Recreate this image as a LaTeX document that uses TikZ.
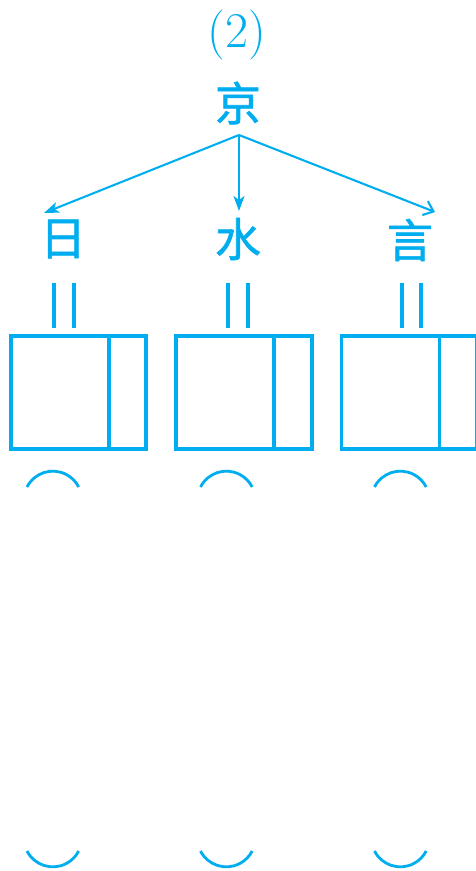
\documentclass[tikz,border=0pt]{standalone}
\usepackage{fontspec}
\newfontfamily\cjk[FakeBold=1.2]{Noto Sans CJK SC}
\usetikzlibrary{arrows.meta}
\definecolor{cy}{RGB}{0,174,239}
\begin{document}
\begin{tikzpicture}[x=1pt,y=-1pt,
  hz/.style={text=cy, font=\cjk\fontsize{46}{46}\selectfont, inner sep=0pt},
  arr/.style={draw=cy, line width=2.1pt},
  eqline/.style={draw=cy, line width=4pt},
  boxline/.style={draw=cy, line width=3.3pt},
  parc/.style={draw=cy, line width=2.8pt}]
\useasboundingbox (0,0) rectangle (476,871);
\node[text=cy, font=\fontsize{50}{50}\selectfont, anchor=base, inner sep=0pt] (num) at (237,47.5) {(2)};
\node[hz] (jing) at (238,103) {京};
\node[hz] (ri) at (63,239) {日};
\node[hz] (shui) at (238,239) {水};
\node[hz] (yan) at (410,240) {言};
\coordinate (src) at (239,135);
\coordinate (tl) at (44,213);
\coordinate (tm) at (239,211);
\coordinate (tr) at (435,212);
\draw[arr,-{Stealth[length=15pt,width=11pt,inset=4pt]}] (src) -- (tl);
\draw[arr,-{Stealth[length=15pt,width=11pt,inset=4pt]}] (src) -- (tm);
\draw[arr,-{Straight Barb[length=9pt,width=15pt]}] (src) -- (tr);
\foreach \x in {53.5,73.5,228,248,401.5,421}
  \draw[eqline] (\x,283) -- (\x,328);
\foreach \l/\d/\r in {11/109/146,176/274/312,341.5/439.5/477}{
  \draw[boxline] (\l,336) rectangle (\r,449);
  \draw[boxline] (\d,336) -- (\d,449);
}
\foreach \c in {53,226.5,400.5}{
  \draw[parc] (\c-26,487) arc[start angle=207, end angle=333, radius=29];
  \draw[parc] (\c-26,851) arc[start angle=153, end angle=27, radius=29];
}
\end{tikzpicture}
\end{document}
